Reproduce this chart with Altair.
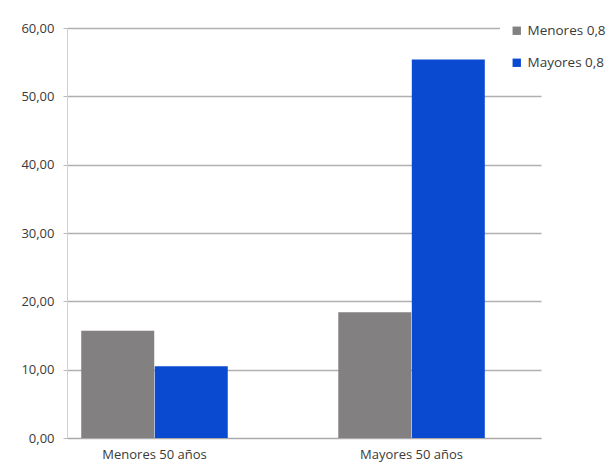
import altair as alt
import pandas as pd

# Age groups on the x axis and the two series drawn inside each group
groups = ["Menores 50 años", "Mayores 50 años"]
series = ["Menores 0,8", "Mayores 0,8"]
menores_08 = [15.7, 18.4]
mayores_08 = [10.5, 55.4]
colors = ["#828080", "#0a4ad0"]

rows = []
for g, a, b in zip(groups, menores_08, mayores_08):
    rows.append({"grupo": g, "serie": series[0], "valor": a})
    rows.append({"grupo": g, "serie": series[1], "valor": b})
df = pd.DataFrame(rows)

font = "Open Sans"

bars = alt.Chart(df).mark_bar(size=73).encode(
    x=alt.X(
        "grupo:N",
        sort=groups,
        title=None,
        scale=alt.Scale(paddingInner=0.428, paddingOuter=0.136, align=0.2),
        axis=alt.Axis(
            labelAngle=0,
            labelFont=font,
            labelFontSize=13,
            labelColor="#3a3a3a",
            labelPadding=10,
            ticks=False,
            domainColor="#a8a8a8",
            domainWidth=1.2,
        ),
    ),
    xOffset=alt.XOffset(
        "serie:N",
        sort=series,
        scale=alt.Scale(paddingInner=0, paddingOuter=0),
    ),
    y=alt.Y(
        "valor:Q",
        title=None,
        scale=alt.Scale(domain=[0, 60], nice=False),
        axis=alt.Axis(
            values=[0, 10, 20, 30, 40, 50, 60],
            labelExpr="replace(format(datum.value, '.2f'), '.', ',')",
            labelFont=font,
            labelFontSize=13,
            labelColor="#3a3a3a",
            labelPadding=9,
            tickSize=4,
            tickColor="#b8b8b8",
            domainColor="#d0d0d0",
            gridColor="#b0b0b0",
            gridWidth=1.3,
        ),
    ),
    color=alt.Color(
        "serie:N",
        sort=series,
        scale=alt.Scale(domain=series, range=colors),
        legend=alt.Legend(
            title=None,
            orient="none",
            legendX=433,
            legendY=-14,
            padding=10,
            fillColor="white",
            symbolType="square",
            symbolSize=70,
            symbolStrokeWidth=0,
            labelFont=font,
            labelFontSize=13.5,
            labelColor="#3a3a3a",
            labelOffset=4,
            rowPadding=17,
        ),
    ),
)

chart = bars.properties(
    width=474,
    height=410,
    autosize=alt.AutoSizeParams(type="none"),
    padding={"left": 67, "top": 28, "right": 72, "bottom": 31},
    background="white",
).configure_view(stroke=None)

chart.save("out.html", embed_options={"renderer": "svg", "actions": False})
